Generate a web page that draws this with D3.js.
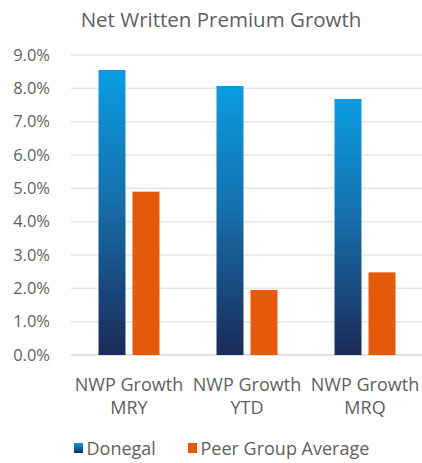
<!DOCTYPE html>
<html>
<head>
<meta charset="utf-8">
<script src="https://cdn.jsdelivr.net/npm/d3@7"></script>
<style>
  body { margin: 0; background: #fff; }
  text { font-family: "Open Sans", "Noto Sans", sans-serif; fill: #5f5f5f; }
</style>
</head>
<body>
<svg width="422" height="463"></svg>
<script>
// chart data
var categories = [['NWP Growth', 'MRY'], ['NWP Growth', 'YTD'], ['NWP Growth', 'MRQ']];
var seriesNames = ['Donegal', 'Peer Group Average'];
var donegal = [0.0855, 0.0807, 0.0768];
var peerAvg = [0.049, 0.0195, 0.0248];
var yTicks = [0, 0.01, 0.02, 0.03, 0.04, 0.05, 0.06, 0.07, 0.08, 0.09];

var svg = d3.select('svg');

var defs = svg.append('defs');
var grad = defs.append('linearGradient')
    .attr('id', 'blueGrad')
    .attr('x1', 0).attr('y1', 0).attr('x2', 0).attr('y2', 1);
grad.append('stop').attr('offset', '0%').attr('stop-color', '#0a9de2');
grad.append('stop').attr('offset', '45%').attr('stop-color', '#1670ad');
grad.append('stop').attr('offset', '100%').attr('stop-color', '#1b2b58');

var x0 = d3.scaleBand()
    .domain(d3.range(categories.length))
    .range([70, 424]);

var x1 = d3.scaleBand()
    .domain(seriesNames)
    .range([x0.bandwidth() / 2 - 30.5, x0.bandwidth() / 2 + 30.5])
    .paddingInner(0.206);

var y = d3.scaleLinear()
    .domain([0, 0.09])
    .range([355, 55]);

var colors = { 'Donegal': 'url(#blueGrad)', 'Peer Group Average': '#e75a0b' };

// title
svg.append('text')
    .attr('x', 221)
    .attr('y', 27)
    .attr('text-anchor', 'middle')
    .style('font-size', '20.5px')
    .text('Net Written Premium Growth');

// gridlines
svg.append('g')
    .selectAll('line')
    .data(yTicks)
    .enter()
    .append('line')
    .attr('x1', 71)
    .attr('x2', 422)
    .attr('y1', d => y(d))
    .attr('y2', d => y(d))
    .attr('stroke', d => d === 0 ? '#d9d9d9' : '#e6e6e6')
    .attr('stroke-width', 1.5);

// y axis labels
var yAxis = d3.axisLeft(y)
    .tickValues(yTicks)
    .tickFormat(d3.format('.1%'))
    .tickSize(0)
    .tickPadding(0);

var yG = svg.append('g')
    .attr('transform', 'translate(50,0)')
    .call(yAxis);
yG.select('.domain').remove();
yG.selectAll('text')
    .style('font-size', '16.5px')
    .style('font-family', '"Open Sans", sans-serif')
    .attr('fill', '#5f5f5f');

// bars
var groups = svg.append('g')
    .selectAll('g')
    .data(categories)
    .enter()
    .append('g')
    .attr('transform', (d, i) => 'translate(' + x0(i) + ',0)');

groups.selectAll('rect')
    .data((d, i) => [
        { key: 'Donegal', value: donegal[i] },
        { key: 'Peer Group Average', value: peerAvg[i] }
    ])
    .enter()
    .append('rect')
    .attr('x', d => x1(d.key))
    .attr('width', x1.bandwidth())
    .attr('y', d => y(d.value))
    .attr('height', d => y(0) - y(d.value))
    .attr('fill', d => colors[d.key]);

// category labels
groups.append('text')
    .attr('text-anchor', 'middle')
    .attr('x', x0.bandwidth() / 2)
    .style('font-size', '18px')
    .selectAll('tspan')
    .data(d => d)
    .enter()
    .append('tspan')
    .attr('x', x0.bandwidth() / 2)
    .attr('y', (d, i) => 390.5 + i * 23.5)
    .text(d => d);

// legend
var legendX = [74, 188];
var legend = svg.append('g')
    .selectAll('g')
    .data(seriesNames)
    .enter()
    .append('g')
    .attr('transform', (d, i) => 'translate(' + legendX[i] + ',443)');

var lgrad = defs.append('linearGradient')
    .attr('id', 'blueGradSmall')
    .attr('x1', 0).attr('y1', 0).attr('x2', 0).attr('y2', 1);
lgrad.append('stop').attr('offset', '0%').attr('stop-color', '#0a9de2');
lgrad.append('stop').attr('offset', '100%').attr('stop-color', '#1b2b58');

legend.append('rect')
    .attr('width', 9)
    .attr('height', 10)
    .attr('fill', d => d === 'Donegal' ? 'url(#blueGradSmall)' : '#e75a0b');

legend.append('text')
    .attr('x', 12.5)
    .attr('y', 11.5)
    .style('font-size', '18px')
    .text(d => d);
</script>
</body>
</html>
